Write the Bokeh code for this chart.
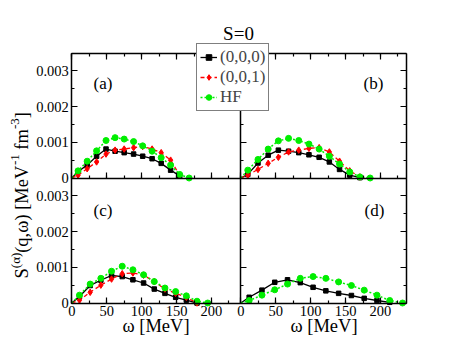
import math
from bokeh.plotting import figure
from bokeh.models import Range1d, LinearAxis, FixedTicker, Label, Legend, LegendItem
from bokeh.embed import file_html
from bokeh.resources import INLINE

# ---------------- data (omega in MeV, S in MeV^-1 fm^-3) ----------------
# every curve starts at the origin (0, 0)
# panel (a)
a_w = [0, 9, 22, 35.5, 49, 62, 75, 88.5, 101.5, 115, 128, 141.5, 154.5, 168]
a_000 = [0, 0.18e-3, 0.36e-3, 0.61e-3, 0.81e-3, 0.75e-3, 0.71e-3, 0.67e-3, 0.61e-3, 0.54e-3, 0.41e-3, 0.22e-3, 0.06e-3]
a_001 = [0, 0.08e-3, 0.26e-3, 0.45e-3, 0.67e-3, 0.78e-3, 0.81e-3, 0.85e-3, 0.88e-3, 0.81e-3, 0.71e-3, 0.50e-3, 0.08e-3]
a_hf = [0, 0.20e-3, 0.47e-3, 0.76e-3, 1.05e-3, 1.13e-3, 1.09e-3, 1.02e-3, 0.90e-3, 0.75e-3, 0.57e-3, 0.36e-3, 0.10e-3, 0.0]
# panel (b)
b_w = [0, 10, 24.6, 39.2, 53.8, 68.4, 83, 97.6, 112.2, 126.8, 141.4, 156, 170.6, 185.2]
b_000 = [0, 0.10e-3, 0.42e-3, 0.64e-3, 0.78e-3, 0.75e-3, 0.71e-3, 0.65e-3, 0.58e-3, 0.45e-3, 0.24e-3, 0.08e-3, 0.01e-3]
b_001 = [0, 0.08e-3, 0.24e-3, 0.41e-3, 0.58e-3, 0.73e-3, 0.78e-3, 0.83e-3, 0.85e-3, 0.73e-3, 0.47e-3, 0.20e-3, 0.03e-3]
b_hf = [0, 0.22e-3, 0.52e-3, 0.81e-3, 1.04e-3, 1.11e-3, 1.05e-3, 0.95e-3, 0.81e-3, 0.61e-3, 0.39e-3, 0.17e-3, 0.03e-3, 0.0]
# panel (c)
c_w = [0, 11, 26.3, 41.6, 56.9, 72.2, 87.5, 102.8, 118.1, 133.4, 148.7, 164, 179.3, 194.6]
c_000 = [0, 0.18e-3, 0.49e-3, 0.64e-3, 0.77e-3, 0.74e-3, 0.65e-3, 0.56e-3, 0.39e-3, 0.27e-3, 0.16e-3, 0.08e-3, 0.0]
c_001 = [0, 0.08e-3, 0.30e-3, 0.50e-3, 0.67e-3, 0.82e-3, 0.84e-3, 0.78e-3, 0.60e-3, 0.39e-3, 0.27e-3, 0.16e-3, 0.0]
c_hf = [0, 0.22e-3, 0.53e-3, 0.69e-3, 0.89e-3, 1.03e-3, 0.93e-3, 0.79e-3, 0.60e-3, 0.42e-3, 0.32e-3, 0.20e-3, 0.05e-3, 0.0]
# panel (d)
d_w = [0, 12, 30.3, 48.6, 66.9, 85.2, 103.5, 121.8, 140.1, 158.4, 176.7, 195, 213.3, 231.6]
d_000 = [0, 0.16e-3, 0.36e-3, 0.58e-3, 0.65e-3, 0.57e-3, 0.44e-3, 0.34e-3, 0.27e-3, 0.21e-3, 0.13e-3, 0.07e-3, 0.02e-3]
d_hf = [0, 0.07e-3, 0.22e-3, 0.37e-3, 0.53e-3, 0.69e-3, 0.74e-3, 0.69e-3, 0.59e-3, 0.49e-3, 0.36e-3, 0.22e-3, 0.07e-3, 0.0]

x_ticks = [0, 50, 100, 150, 200]
y_ticks = [0, 0.001, 0.002, 0.003]
y_tick_labels = ["0", "0.001", "0.002", "0.003"]
series_labels = ["(0,0,0)", "(0,0,1)", "HF"]
panel_names = ["(a)", "(b)", "(c)", "(d)"]

# ---------------- geometry (pixels) ----------------
W, H = 460, 355
PX0, PXD, PX1 = 71.3, 240.3, 406.3     # left edge, column divider, right edge
PY0, PYD, PY1 = 52.5, 177.5, 302.5     # top edge, row divider, bottom edge
L = 242.0                               # omega extent of left column
R = L * (PX1 - PXD) / (PXD - PX0)       # omega extent of right column (same scale)
YT = 0.0035                             # S extent of each row
sx = (PXD - PX0) / L                    # px per MeV
sy = (PY1 - PYD) / YT                   # px per unit S
FONT = "Liberation Serif"

p = figure(frame_width=W, frame_height=H,
           x_range=Range1d(-PX0 / sx, (W - PX0) / sx),
           y_range=Range1d(-(H - PY1) / sy, PY1 / sy),
           x_axis_type=None, y_axis_type=None,
           min_border=0, min_border_left=0, min_border_right=0, min_border_top=0, min_border_bottom=0,
           output_backend="svg", toolbar_location=None)
p.extra_x_ranges = {"right": Range1d(-PXD / sx, (W - PXD) / sx)}
p.extra_y_ranges = {"top": Range1d(-(H - PYD) / sy, PYD / sy)}
p.outline_line_color = None
p.background_fill_color = "white"
p.border_fill_color = "white"

x_minor = [25.0 * k for k in range(10)]
y_minor = [0.0005 * k for k in range(8)]


def add_axis(side, xr, yr_, loc, bounds, ticks, minor, labels=None):
    ax = LinearAxis(x_range_name=xr, y_range_name=yr_, fixed_location=loc, bounds=bounds,
                    ticker=FixedTicker(ticks=list(ticks), minor_ticks=[m for m in minor if bounds[0] <= m <= bounds[1]]))
    ax.axis_line_width = 1.5
    ax.major_tick_in = 6
    ax.major_tick_out = 0
    ax.minor_tick_in = 3
    ax.minor_tick_out = 0
    ax.major_tick_line_width = 1.2
    ax.minor_tick_line_width = 1.2
    ax.major_label_text_font = FONT
    ax.major_label_text_color = "black"
    if labels is not None:
        ax.major_label_overrides = labels
        ax.major_label_text_font_size = "14.5px"
        ax.major_label_standoff = 3
    else:
        ax.major_label_text_font_size = "0px"
        ax.major_label_standoff = 0
    p.add_layout(ax, side)


x_lab = {float(t): str(t) for t in x_ticks}
y_lab = {t: s for t, s in zip(y_ticks, y_tick_labels)}
cols = [("default", L), ("right", R)]
rows = [("top", False), ("default", True)]
for ci, (xr, xmax) in enumerate(cols):
    for ri, (yr_, is_bottom) in enumerate(rows):
        add_axis("below", xr, yr_, 0.0, (0.0, xmax), x_ticks, x_minor, x_lab if is_bottom else None)
        add_axis("left", xr, yr_, 0.0, (0.0, YT), y_ticks, y_minor, y_lab if ci == 0 else None)
        if ri == 0:
            add_axis("above", xr, yr_, YT, (0.0, xmax), x_ticks, x_minor)
        if ci == 1:
            add_axis("right", xr, yr_, xmax, (0.0, YT), y_ticks, y_minor)

# ---------------- series ----------------
BLACK, RED, GREEN = "#000000", "#ff0000", "#00ee00"


def draw(w, s, kind, xr, yr_):
    xs = w[:len(s)]
    kw = dict(x_range_name=xr, y_range_name=yr_)
    # the symbol at the origin is hidden by the axes corner in the original, so markers skip it
    if kind == 0:
        ln = p.line(xs, s, line_color=BLACK, line_width=1.3, **kw)
        sc = p.scatter(xs[1:], s[1:], marker="square", size=4.5, fill_color=BLACK, line_color=BLACK, **kw)
    elif kind == 1:
        ln = p.line(xs, s, line_color=RED, line_width=1.3, line_dash="4 3", **kw)
        sc = p.scatter(xs[1:], s[1:], marker="diamond", size=6.5, fill_color=RED, line_color=RED, **kw)
    else:
        ln = p.line(xs, s, line_color=GREEN, line_width=1.5, line_dash="2 2", **kw)
        sc = p.scatter(xs[1:], s[1:], marker="circle", size=6, fill_color=GREEN, line_color=GREEN, **kw)
    return [ln, sc]


leg_a = [draw(a_w, a_000, 0, "default", "top"),
         draw(a_w, a_001, 1, "default", "top"),
         draw(a_w, a_hf, 2, "default", "top")]
draw(b_w, b_000, 0, "right", "top")
draw(b_w, b_001, 1, "right", "top")
draw(b_w, b_hf, 2, "right", "top")
draw(c_w, c_000, 0, "default", "default")
draw(c_w, c_001, 1, "default", "default")
draw(c_w, c_hf, 2, "default", "default")
draw(d_w, d_000, 0, "right", "default")
draw(d_w, d_hf, 2, "right", "default")

leg_kw = dict(items=[LegendItem(label=lab, renderers=r) for lab, r in zip(series_labels, leg_a)],
              location=(196, H - 111), orientation="vertical",
              label_text_font=FONT, label_text_font_size="17px",
              glyph_width=17, glyph_height=14, label_height=14, label_standoff=3,
              padding=3, margin=0,
              border_line_color="black", border_line_width=1.2,
              background_fill_color="white", background_fill_alpha=1.0)
try:
    legend = Legend(spacing=-2, **leg_kw)
except Exception:
    legend = Legend(spacing=0, **leg_kw)
p.add_layout(legend, "center")

# ---------------- texts (page pixel positions) ----------------


def lab(text, px, py, size, align="left", baseline="middle", angle=0.0):
    p.add_layout(Label(x=px, y=H - py, x_units="screen", y_units="screen", text=text,
                       text_font=FONT, text_font_size=size, text_color="black",
                       text_align=align, text_baseline=baseline, angle=angle))


lab("S=0", 238, 33, "19px", align="center", baseline="alphabetic")
lab(panel_names[0], 93, 82.5, "17px")
lab(panel_names[1], 363, 82.5, "17px")
lab(panel_names[2], 93, 209.5, "17px")
lab(panel_names[3], 364, 209.5, "17px")
lab("ω [MeV]", 155.5, 325, "18.5px", align="center", baseline="alphabetic")
lab("ω [MeV]", 323.5, 325, "18.5px", align="center", baseline="alphabetic")

# rotated y label built from pieces (main text + superscripts), reading bottom to top
rot = math.pi / 2
mx, sxp = 21.0, 14.5
MAIN, SUP = "18.5px", "13px"
pieces = [("S", 278.0, mx, MAIN), ("(α)", 267.7, sxp, SUP), ("(q,ω) [MeV", 252.3, mx, MAIN),
          ("-1", 164.6, sxp, SUP), ("fm", 149.2, mx, MAIN), ("-3", 128.6, sxp, SUP),
          ("]", 117.8, mx, MAIN)]
for t, py, px, sz in pieces:
    lab(t, px, py, sz, align="left", baseline="alphabetic", angle=rot)

open("out.html", "w").write(file_html(p, INLINE))
